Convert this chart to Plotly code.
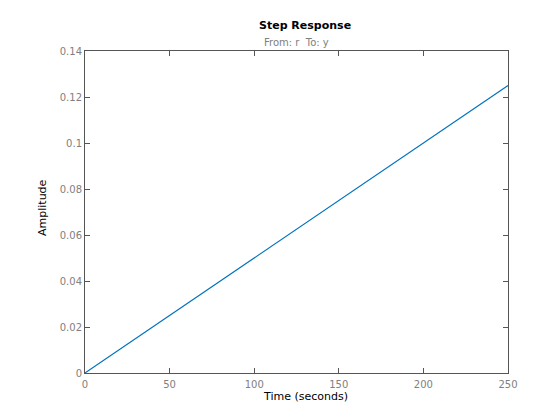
import plotly.graph_objects as go

# Data (step response, straight ramp)
time_s = [0, 50, 100, 150, 200, 250]
amplitude = [0, 0.025, 0.05, 0.075, 0.1, 0.125]
x_ticks = [0, 50, 100, 150, 200, 250]
y_ticks = [0, 0.02, 0.04, 0.06, 0.08, 0.1, 0.12, 0.14]
y_tick_labels = ["0", "0.02", "0.04", "0.06", "0.08", "0.1", "0.12", "0.14"]

FONT = "DejaVu Sans"
AXC = "#555555"
TICKC = "#808080"

OFF = 8  # page body margin
L, R, T, B = 85 - OFF, 60, 51 - OFF, 55

fig = go.Figure()
fig.add_trace(go.Scatter(x=time_s, y=amplitude, mode="lines",
                         line=dict(color="#0072BD", width=1.1),
                         showlegend=False, hoverinfo="skip"))

axis_common = dict(showgrid=False, zeroline=False, showline=True, linecolor=AXC,
                   linewidth=1, mirror="ticks", ticks="inside", ticklen=5,
                   tickcolor=AXC, tickwidth=1,
                   tickfont=dict(family=FONT, size=10, color=TICKC))

fig.update_xaxes(range=[0, 250], tickvals=x_ticks, ticktext=[str(v) for v in x_ticks],
                 ticklabelstandoff=2, **axis_common)
fig.update_yaxes(range=[0, 0.14], tickvals=y_ticks, ticktext=y_tick_labels,
                 **axis_common)

# annotation positions in page pixels
ann = [
    ("<b>Step Response</b>", 305, 26, 11, "black", 0),
    ("From: r  To: y", 296, 42, 10, TICKC, 0),
    ("Time (seconds)", 305, 396, 11, "black", 0),
    ("Amplitude", 42, 208, 11, "black", -90),
]
pw = 560 - L - R
ph = 420 - T - B
annotations = []
for text, px, py, size, color, ang in ann:
    fx, fy = px - OFF, py - OFF
    annotations.append(dict(text=text, x=(fx - L) / pw, y=1 - (fy - T) / ph,
                            xref="paper", yref="paper", showarrow=False,
                            xanchor="center", yanchor="middle", textangle=ang,
                            font=dict(family=FONT, size=size, color=color)))

fig.update_layout(
    width=560, height=420,
    margin=dict(l=L, r=R, t=T, b=B, pad=0),
    paper_bgcolor="white", plot_bgcolor="white",
    font=dict(family=FONT),
    annotations=annotations,
)

fig.write_html("out.html")
